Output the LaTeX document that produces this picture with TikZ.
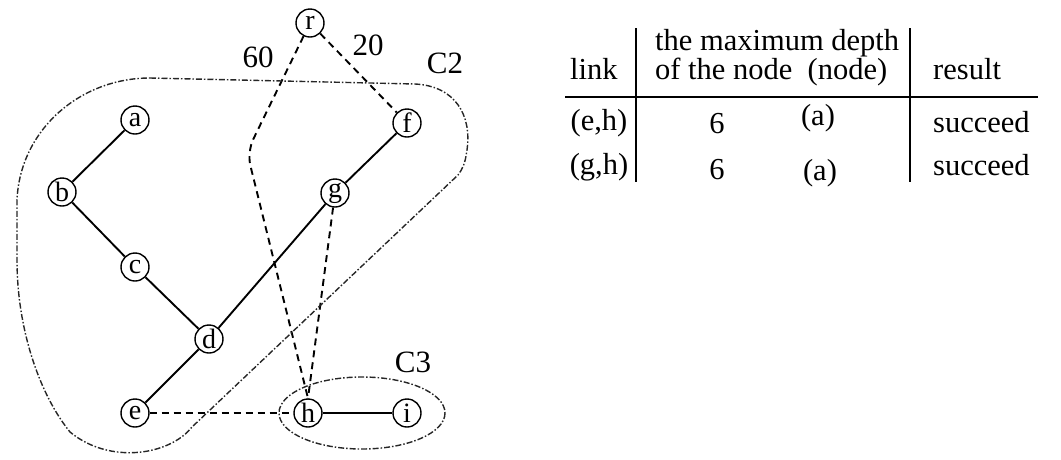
\documentclass[tikz,border=0pt]{standalone}
\usepackage{fontspec}
\setmainfont{Liberation Serif}
\begin{document}
\begin{tikzpicture}[x=1pt,y=-1pt,
  vtx/.style={circle,draw,line width=1.4pt,minimum size=28pt,inner sep=0pt,font=\fontsize{28}{28}\selectfont},
  solidedge/.style={line width=1.9pt},
  dashedge/.style={line width=1.9pt,dash pattern=on 7pt off 5pt},
  cluster/.style={line width=1.4pt,black!85,dash pattern=on 6pt off 2pt on 1.5pt off 2pt},
  lbl/.style={font=\fontsize{31}{31}\selectfont,inner sep=0pt},
  tbl/.style={font=\fontsize{30.5}{30.5}\selectfont,inner sep=0pt},
  rule/.style={line width=1.8pt}]
\useasboundingbox (0,0) rectangle (1061,459);
% vertices
\node[vtx] (r) at (310,23) {r};
\node[vtx] (a) at (135,120) {a};
\node[vtx] (b) at (62,192) {b};
\node[vtx] (c) at (135,267) {c};
\node[vtx] (d) at (209,339) {d};
\node[vtx] (e) at (135,413) {e};
\node[vtx] (f) at (407,123) {f};
\node[vtx] (g) at (335,193) {g};
\node[vtx] (h) at (308,413) {h};
\node[vtx] (i) at (407,413) {i};
\coordinate (bend) at (247,152);
% solid edges
\draw[solidedge] (a) -- (b);
\draw[solidedge] (b) -- (c);
\draw[solidedge] (c) -- (d);
\draw[solidedge] (d) -- (e);
\draw[solidedge] (d) -- (g);
\draw[solidedge] (g) -- (f);
\draw[solidedge] (h) -- (i);
% dashed edges
\draw[dashedge,rounded corners=14pt] (r) -- (bend) -- (h.north);
\draw[dashedge] (r) -- (f);
\draw[dashedge] (g) -- (h.north);
\draw[dashedge] (e) -- (h);
% clusters
\draw[cluster] (150,78) -- (415,84)
  .. controls (455,86) and (472,115) .. (467,150)
  .. controls (465,164) and (463,168) .. (458,175)
  -- (192,427)
  .. controls (170,455) and (110,465) .. (70,432)
  .. controls (40,395) and (17,330) .. (17,260)
  -- (17,200)
  .. controls (20,130) and (80,78) .. cycle;
\draw[cluster] (362,413) ellipse [x radius=83, y radius=36];
% labels
\node[lbl] (l60) at (258,57) {60};
\node[lbl] (l20) at (368,45) {20};
\node[lbl] (lc2) at (445,63) {C2};
\node[lbl] (lc3) at (413,362) {C3};
% table
\node[tbl,anchor=base west] (hlink) at (570,79) {link};
\node[tbl,anchor=base west,align=left,font=\fontsize{30.5}{24}\selectfont] (hdep) at (655,79) {the maximum depth\\of the node\ \ (node)};
\node[tbl,anchor=base west] (hres) at (933,79) {result};
\node[tbl] (r1a) at (599,123) {(e,h)};
\node[tbl] (r1b) at (717,124) {6};
\node[tbl] (r1c) at (818,118) {(a)};
\node[tbl,anchor=west] (r1d) at (933,122) {succeed};
\node[tbl] (r2a) at (599,167) {(g,h)};
\node[tbl] (r2b) at (717,170) {6};
\node[tbl] (r2c) at (820,173) {(a)};
\node[tbl,anchor=west] (r2d) at (933,165) {succeed};
\coordinate (hl) at (565,97);
\coordinate (hr) at (1038,97);
\coordinate (v1t) at (636,28);
\coordinate (v1b) at (636,182);
\coordinate (v2t) at (910,28);
\coordinate (v2b) at (910,182);
\draw[rule] (hl) -- (hr);
\draw[rule] (v1t) -- (v1b);
\draw[rule] (v2t) -- (v2b);
\end{tikzpicture}
\end{document}
